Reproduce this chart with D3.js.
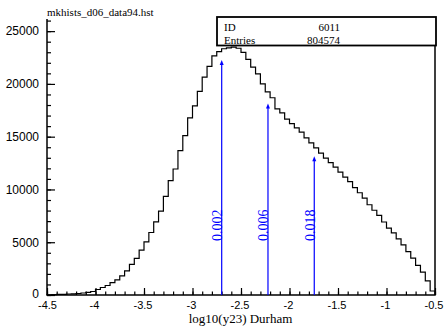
<!DOCTYPE html>
<html>
<head>
<meta charset="utf-8">
<script src="https://cdn.jsdelivr.net/npm/d3@7"></script>
<style>
  body { margin: 0; background: #fff; }
  svg { display: block; font-family: "Liberation Serif", "Times New Roman", serif; }
</style>
</head>
<body>
<svg id="chart" width="445" height="326"></svg>
<script>
// Histogram: 80 bins of 0.05 from -4.5 to -0.5
const binLo = -4.5;
const binWidth = 0.05;
const counts = [
  20, 40, 50, 65, 95, 115, 140, 190, 240, 330,
  520, 710, 900, 1170, 1425, 1805, 2280, 2900, 3470, 4250,
  5035, 5920, 6935, 7950, 9340, 10830, 11940, 13680, 15100, 16790,
  17910, 19285, 20640, 21660, 22650, 23050, 23330, 23420, 23480, 23380,
  22990, 22325, 21585, 20950, 20000, 19240, 18690, 17640, 17260, 16660,
  16245, 15835, 15440, 14885, 14410, 13935, 13440, 12970, 12540, 12110,
  11640, 11160, 10735, 10165, 9690, 9170, 8550, 8030, 7550, 6915,
  6335, 5890, 5320, 4750, 4115, 3485, 2800, 2165, 1340, 380
];

// cut markers
const cutLabels = ['0.002', '0.006', '0.018'];
const cutValues = [0.002, 0.006, 0.018];
const cutTops = [22260, 18145, 13140];

const xMajorTicks = [-4.5, -4, -3.5, -3, -2.5, -2, -1.5, -1, -0.5];
const yMajorTicks = [0, 5000, 10000, 15000, 20000, 25000];

const title = 'mkhists_d06_data94.hst';
const xTitle = 'log10(y23) Durham';
const statsRows = [['ID', '6011'], ['Entries', '804574']];

const svg = d3.select('#chart');
const mLeft = 47, mRight = 435, mTop = 19, mBottom = 295;

const x = d3.scaleLinear().domain([-4.5, -0.5]).range([mLeft, mRight]);
const y = d3.scaleLinear().domain([0, 26150]).range([mBottom, mTop]);

// minor ticks
const xMinor = d3.range(-45, -4).map(d => d / 10);
const yMinor = d3.range(0, 27).map(d => d * 1000).filter(d => d <= 26150);

svg.append('g')
  .attr('transform', `translate(0, ${mBottom})`)
  .call(d3.axisBottom(x).tickValues(xMinor).tickSize(-3.5).tickFormat(''))
  .call(g => g.select('.domain').remove());
svg.append('g')
  .attr('transform', `translate(0, ${mBottom})`)
  .call(d3.axisBottom(x).tickValues(xMajorTicks).tickSize(-7).tickPadding(6)
    .tickFormat(d => String(d).replace('\u2212', '-')))
  .call(g => g.select('.domain').remove())
  .call(g => g.selectAll('text').attr('font-size', 11).attr('font-family', null)
    .attr('dx', (d, i) => i === 0 ? 0 : -1.5).attr('fill', '#000'));

svg.append('g')
  .attr('transform', `translate(${mLeft}, 0)`)
  .call(d3.axisLeft(y).tickValues(yMinor).tickSize(-4).tickFormat(''))
  .call(g => g.select('.domain').remove());
svg.append('g')
  .attr('transform', `translate(${mLeft}, 0)`)
  .call(d3.axisLeft(y).tickValues(yMajorTicks).tickSize(-8).tickPadding(8).tickFormat(d3.format('d')))
  .call(g => g.select('.domain').remove())
  .call(g => g.selectAll('text').attr('font-size', 12).attr('font-family', null).attr('fill', '#000')
    .attr('dy', (d, i) => i === 0 ? '0.2em' : '0.32em'));

svg.selectAll('.tick line').attr('stroke', '#000').attr('stroke-width', 1.2);

// frame: left, bottom, right
svg.append('path')
  .attr('d', `M${mLeft},${mTop}V${mBottom}H${mRight}V${mTop - 2}`)
  .attr('fill', 'none')
  .attr('stroke', '#000')
  .attr('stroke-width', 1.5);

// histogram outline
const pts = [[binLo, 0]];
counts.forEach((c, i) => pts.push([binLo + i * binWidth, c]));
pts.push([binLo + counts.length * binWidth, counts[counts.length - 1]]);
pts.push([binLo + counts.length * binWidth, 0]);
const line = d3.line().x(d => x(d[0])).y(d => y(d[1])).curve(d3.curveStepAfter);
svg.append('path')
  .attr('d', line(pts))
  .attr('fill', 'none')
  .attr('stroke', '#000')
  .attr('stroke-width', 1.2);

// cut arrows
cutValues.forEach((v, i) => {
  const cx = x(Math.log10(v));
  const ty = y(cutTops[i]);
  svg.append('line')
    .attr('x1', cx).attr('x2', cx)
    .attr('y1', mBottom).attr('y2', ty + 3)
    .attr('stroke', 'blue').attr('stroke-width', 1.2);
  svg.append('path')
    .attr('d', `M${cx},${ty}L${cx - 2},${ty + 5}L${cx + 2},${ty + 5}Z`)
    .attr('fill', 'blue');
  svg.append('text')
    .attr('transform', `translate(${cx + 0.5}, 241) rotate(-90)`)
    .attr('font-size', 14)
    .attr('fill', 'blue')
    .text(cutLabels[i]);
});

// stats box
svg.append('rect')
  .attr('x', 217).attr('y', 17).attr('width', 219).attr('height', 28.5)
  .attr('fill', '#fff').attr('stroke', '#000').attr('stroke-width', 1.8);
statsRows.forEach((r, i) => {
  svg.append('text').attr('x', 224).attr('y', 30.5 + i * 13.6)
    .attr('font-size', 11).text(r[0]);
  svg.append('text').attr('x', 340).attr('y', 30.5 + i * 13.6)
    .attr('font-size', 11).attr('text-anchor', 'end').text(r[1]);
});

// titles
svg.append('text').attr('x', 47).attr('y', 16).attr('font-size', 11).text(title);
svg.append('text').attr('x', 240.5).attr('y', 323)
  .attr('text-anchor', 'middle').attr('font-size', 13).text(xTitle);
</script>
</body>
</html>
